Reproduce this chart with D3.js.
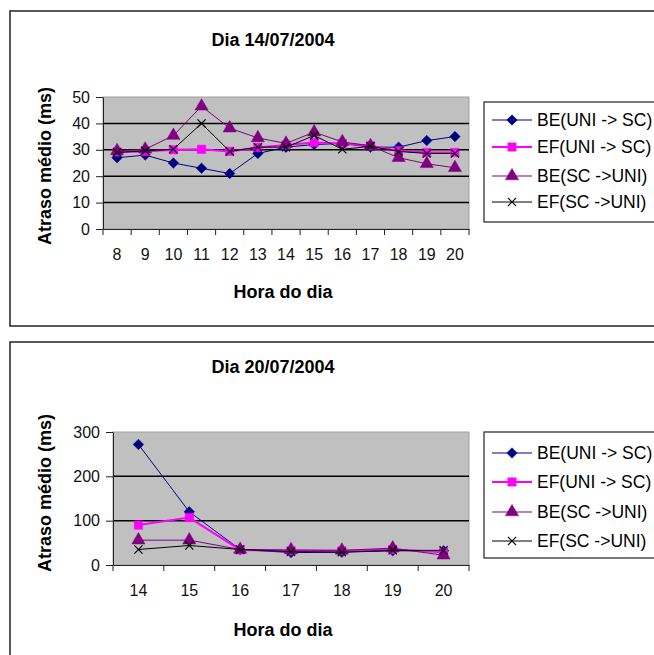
<!DOCTYPE html>
<html>
<head>
<meta charset="utf-8">
<script src="https://cdn.jsdelivr.net/npm/d3@7"></script>
<style>
  body { margin: 0; background: #fff; }
  svg { display: block; font-family: Arial, 'Liberation Sans', sans-serif; }
</style>
</head>
<body>
<svg width="654" height="655"></svg>
<script>
const seriesNames = ['BE(UNI -> SC)', 'EF(UNI -> SC)', 'BE(SC ->UNI)', 'EF(SC ->UNI)']

// Dia 14/07/2004
const hours1 = ['8', '9', '10', '11', '12', '13', '14', '15', '16', '17', '18', '19', '20']
const beUniSc1 = [27, 28, 25, 23, 21, 28.6, 31, 32, 32.4, 31, 31, 33.5, 35]
const efUniSc1 = [29.2, 29.4, 30, 30.2, 29.4, 30.9, 31.8, 32.8, 32.4, 31.5, 29.6, 29, 29]
const beScUni1 = [29.6, 30.2, 35.4, 46.5, 38.2, 34.5, 32.4, 36.7, 33, 31.5, 27, 24.7, 23.2]
const efScUni1 = [29, 29.6, 30.2, 40, 29.4, 31, 31, 35.4, 30.2, 31.3, 29.4, 28.6, 28.6]
const yTicks1 = [0, 10, 20, 30, 40, 50]

// Dia 20/07/2004
const hours2 = ['14', '15', '16', '17', '18', '19', '20']
const beUniSc2 = [272, 120, 35, 28, 29, 32, 32]
const efUniSc2 = [90, 107, 34, 32, 32, 35, 29]
const beScUni2 = [56, 56, 35, 34, 33, 38, 22]
const efScUni2 = [35, 44, 35, 30, 29, 33, 33]
const yTicks2 = [0, 100, 200, 300]

// excel style diamond: as wide as it is tall
const squareDiamond = {
  draw(ctx, size) {
    const r = Math.sqrt(size / 2)
    ctx.moveTo(0, -r)
    ctx.lineTo(r, 0)
    ctx.lineTo(0, r)
    ctx.lineTo(-r, 0)
    ctx.closePath()
  }
}

const styles = [
  { color: '#000080', width: 1, symbol: squareDiamond, size: 55, fill: true },
  { color: '#ff00ff', width: 2, symbol: d3.symbolSquare, size: 70, fill: true },
  { color: '#800080', width: 1, symbol: d3.symbolTriangle, size: 75, fill: true },
  { color: '#000000', width: 1, symbol: d3.symbolTimes || d3.symbolX, size: 45, fill: false }
]

const svg = d3.select('svg')

function drawChart(cfg) {
  const g = svg.append('g')

  g.append('rect')
    .attr('x', cfg.frame.x).attr('y', cfg.frame.y)
    .attr('width', cfg.frame.w).attr('height', cfg.frame.h)
    .attr('fill', '#fff').attr('stroke', '#222').attr('stroke-width', 1.5)

  g.append('text')
    .attr('x', 273).attr('y', cfg.titleY)
    .attr('text-anchor', 'middle').attr('dy', '0.35em')
    .attr('font-size', 18).attr('font-weight', 'bold')
    .text(cfg.title)

  const x = d3.scaleBand().domain(cfg.hours).range([cfg.plot.left, cfg.plot.right])
  const y = d3.scaleLinear().domain([0, d3.max(cfg.yTicks)]).range([cfg.plot.bottom, cfg.plot.top])

  g.append('rect')
    .attr('x', cfg.plot.left).attr('y', cfg.plot.top)
    .attr('width', cfg.plot.right - cfg.plot.left)
    .attr('height', cfg.plot.bottom - cfg.plot.top)
    .attr('fill', '#c0c0c0').attr('stroke', '#a0a0a0')

  g.append('g')
    .selectAll('line')
    .data(cfg.yTicks.filter(t => t > 0 && t < d3.max(cfg.yTicks)))
    .join('line')
    .attr('x1', cfg.plot.left).attr('x2', cfg.plot.right)
    .attr('y1', d => y(d)).attr('y2', d => y(d))
    .attr('stroke', '#000').attr('stroke-width', 1.5)

  const yAxis = g.append('g')
    .attr('transform', `translate(${cfg.plot.left},0)`)
    .call(d3.axisLeft(y).tickValues(cfg.yTicks).tickSize(7).tickPadding(6).tickSizeOuter(0))
  const xAxis = g.append('g')
    .attr('transform', `translate(0,${cfg.plot.bottom})`)
    .call(d3.axisBottom(x).tickSize(0).tickPadding(20))
  xAxis.selectAll('.tick')
    .append('line')
    .attr('x1', -x.bandwidth() / 2).attr('x2', -x.bandwidth() / 2)
    .attr('y2', 6).attr('stroke', '#222')
  xAxis.append('line')
    .attr('x1', cfg.plot.right).attr('x2', cfg.plot.right)
    .attr('y2', 6).attr('stroke', '#222')
  ;[yAxis, xAxis].forEach(a => {
    a.attr('font-size', 16).attr('font-family', null)
    a.selectAll('text').attr('fill', '#111')
    a.select('.domain').attr('stroke', '#222')
    a.selectAll('.tick line').attr('stroke', '#222')
  })

  g.append('text')
    .attr('transform', `translate(45,${cfg.yLabelY}) rotate(-90)`)
    .attr('text-anchor', 'middle').attr('dy', '0.35em')
    .attr('font-size', 18).attr('font-weight', 'bold')
    .text('Atraso médio (ms)')

  g.append('text')
    .attr('x', 283).attr('y', cfg.xLabelY)
    .attr('text-anchor', 'middle').attr('dy', '0.35em')
    .attr('font-size', 18).attr('font-weight', 'bold')
    .text('Hora do dia')

  const line = d3.line()
    .x((d, i) => x(cfg.hours[i]) + x.bandwidth() / 2)
    .y(d => y(d))

  cfg.series.forEach((vals, s) => {
    const st = styles[s]
    g.append('path')
      .datum(vals)
      .attr('fill', 'none').attr('stroke', st.color).attr('stroke-width', st.width)
      .attr('d', line)
    g.append('g')
      .selectAll('path')
      .data(vals)
      .join('path')
      .attr('transform', (d, i) => `translate(${x(cfg.hours[i]) + x.bandwidth() / 2},${y(d)})`)
      .attr('d', d3.symbol(st.symbol, st.size))
      .attr('fill', st.fill ? st.color : 'none')
      .attr('stroke', st.color).attr('stroke-width', st.fill ? 0.5 : 1.2)
  })

  const lg = g.append('g')
  lg.append('rect')
    .attr('x', 484).attr('y', cfg.legend.top)
    .attr('width', 200).attr('height', cfg.legend.bottom - cfg.legend.top)
    .attr('fill', '#fff').attr('stroke', '#222').attr('stroke-width', 1.2)
  seriesNames.forEach((name, s) => {
    const st = styles[s]
    const ly = cfg.legend.rows[s]
    lg.append('line')
      .attr('x1', 492).attr('x2', 532).attr('y1', ly).attr('y2', ly)
      .attr('stroke', st.color).attr('stroke-width', st.width)
    lg.append('path')
      .attr('transform', `translate(512,${ly})`)
      .attr('d', d3.symbol(st.symbol, st.size))
      .attr('fill', st.fill ? st.color : 'none')
      .attr('stroke', st.color).attr('stroke-width', st.fill ? 0.5 : 1.2)
    lg.append('text')
      .attr('x', 537).attr('y', ly).attr('dy', '0.35em')
      .attr('font-size', 17.5)
      .text(name)
  })
}

drawChart({
  title: 'Dia 14/07/2004', titleY: 40,
  frame: { x: 10, y: 11, w: 660, h: 315 },
  plot: { left: 103, right: 469, top: 97, bottom: 229 },
  hours: hours1, yTicks: yTicks1,
  series: [beUniSc1, efUniSc1, beScUni1, efScUni1],
  yLabelY: 166, xLabelY: 292,
  legend: { top: 102, bottom: 222, rows: [120, 147, 176, 202] }
})

drawChart({
  title: 'Dia 20/07/2004', titleY: 367,
  frame: { x: 10, y: 342, w: 660, h: 330 },
  plot: { left: 113, right: 469, top: 432, bottom: 565 },
  hours: hours2, yTicks: yTicks2,
  series: [beUniSc2, efUniSc2, beScUni2, efScUni2],
  yLabelY: 493, xLabelY: 630,
  legend: { top: 432, bottom: 558, rows: [453, 482, 512, 541] }
})
</script>
</body>
</html>
